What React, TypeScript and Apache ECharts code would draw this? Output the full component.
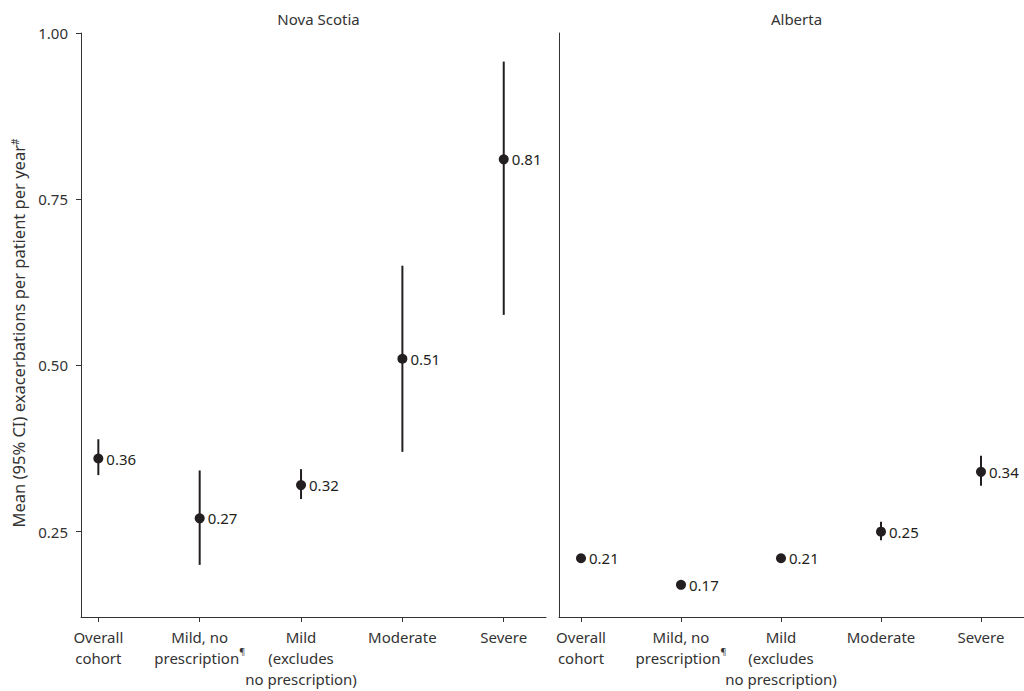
import React, { useEffect, useRef } from "react";
import * as echarts from "echarts";

const categories = [
  "Overall\ncohort",
  "Mild, no\nprescription{sup|¶}",
  "Mild\n(excludes\nno prescription)",
  "Moderate",
  "Severe",
];
const categoryPositions = [1, 2, 3, 4, 5];
const panelTitles = ["Nova Scotia", "Alberta"];

const nsMean = [0.36, 0.27, 0.32, 0.51, 0.81];
const nsLower = [0.335, 0.2, 0.299, 0.37, 0.576];
const nsUpper = [0.389, 0.342, 0.344, 0.65, 0.957];

const abMean = [0.21, 0.17, 0.21, 0.25, 0.34];
const abLower = [0.206, 0.166, 0.206, 0.237, 0.319];
const abUpper = [0.214, 0.174, 0.214, 0.265, 0.364];

const yTicks = [0.25, 0.5, 0.75, 1.0];
const yName = "Mean (95% CI) exacerbations per patient per year{sup|#}";

const INK = "#231f20";
const FONT = "Noto Sans";

export default function App() {
  const ref = useRef<HTMLDivElement>(null);
  useEffect(() => {
    if (!ref.current) return;
    const chart = echarts.init(ref.current, null, { renderer: "svg" });

    const grids = [
      { left: 81, top: 33, width: 465, height: 584 },
      { left: 559, top: 33, width: 465, height: 584 },
    ];
    const xRanges = [
      [0.829, 5.417],
      [0.78, 5.43],
    ];

    const xAxes = grids.map((_, i) => ({
      type: "value",
      gridIndex: i,
      min: xRanges[i][0],
      max: xRanges[i][1],
      splitLine: { show: false },
      axisLine: { show: true, lineStyle: { color: "#333", width: 1 } },
      axisTick: {
        show: true,
        length: 5,
        lineStyle: { color: "#333", width: 1 },
        customValues: categoryPositions,
      },
      axisLabel: {
        customValues: categoryPositions,
        margin: 9,
        color: "#333",
        fontFamily: FONT,
        fontSize: 15,
        lineHeight: 21,
        align: "center",
        formatter: (v: number) => categories[Math.round(v) - 1] ?? "",
        rich: {
          sup: { fontSize: 9, fontFamily: FONT, color: "#333", verticalAlign: "top", lineHeight: 21, padding: [0, 0, 5, 0] },
        },
      },
    }));

    const yAxes = [
      {
        type: "value",
        gridIndex: 0,
        min: 0.1216,
        max: 1.0,
        splitLine: { show: false },
        axisLine: { show: true, lineStyle: { color: "#333", width: 1 } },
        axisTick: {
          show: true,
          length: 5,
          lineStyle: { color: "#333", width: 1 },
          customValues: yTicks,
        },
        axisLabel: {
          customValues: yTicks,
          margin: 13,
          color: "#333",
          fontFamily: FONT,
          fontSize: 15,
          formatter: (v: number) => v.toFixed(2),
        },
      },
      {
        type: "value",
        gridIndex: 1,
        min: 0.1216,
        max: 1.0,
        splitLine: { show: false },
        axisLine: { show: true, lineStyle: { color: "#333", width: 1 } },
        axisTick: { show: false },
        axisLabel: { show: false },
      },
    ];

    const panels = [
      { mean: nsMean, lower: nsLower, upper: nsUpper },
      { mean: abMean, lower: abLower, upper: abUpper },
    ];

    const series: any[] = [];
    panels.forEach((p, i) => {
      series.push({
        type: "custom",
        xAxisIndex: i,
        yAxisIndex: i,
        data: categoryPositions.map((x, k) => [x, p.lower[k], p.upper[k]]),
        renderItem: (params: any, api: any) => {
          const x = api.value(0);
          const lo = api.coord([x, api.value(1)]);
          const hi = api.coord([x, api.value(2)]);
          return {
            type: "line",
            shape: { x1: lo[0], y1: lo[1], x2: hi[0], y2: hi[1] },
            style: { stroke: INK, lineWidth: 2 },
          };
        },
        silent: true,
        z: 2,
      });
      series.push({
        type: "scatter",
        xAxisIndex: i,
        yAxisIndex: i,
        data: categoryPositions.map((x, k) => [x, p.mean[k]]),
        symbol: "circle",
        symbolSize: 10,
        itemStyle: { color: INK, opacity: 1 },
        label: {
          show: true,
          position: "right",
          distance: 3,
          color: INK,
          fontFamily: FONT,
          fontSize: 15,
          formatter: (pr: any) => pr.value[1].toFixed(2),
        },
        z: 3,
      });
    });

    chart.setOption({
      animation: false,
      backgroundColor: "#ffffff",
      textStyle: { fontFamily: FONT },
      title: panelTitles.map((t, i) => ({
        text: t,
        left: grids[i].left + grids[i].width / 2,
        top: 6,
        textAlign: "center",
        textStyle: { color: "#333", fontFamily: FONT, fontSize: 15, fontWeight: "normal" },
      })),
      graphic: [
        {
          type: "text",
          x: 18,
          y: 333,
          rotation: Math.PI / 2,
          style: {
            text: yName,
            align: "center",
            verticalAlign: "middle",
            fill: "#333",
            fontFamily: FONT,
            fontSize: 16.5,
            rich: {
              sup: { fontSize: 10, fontFamily: FONT, fill: "#333", verticalAlign: "top", padding: [0, 0, 6, 0] },
            },
          },
        },
      ],
      grid: grids,
      xAxis: xAxes,
      yAxis: yAxes,
      series,
    });

    return () => chart.dispose();
  }, []);

  return (
    <div
      ref={ref}
      style={{ position: "absolute", left: 0, top: 0, width: 1024, height: 691, background: "#fff" }}
    />
  );
}
